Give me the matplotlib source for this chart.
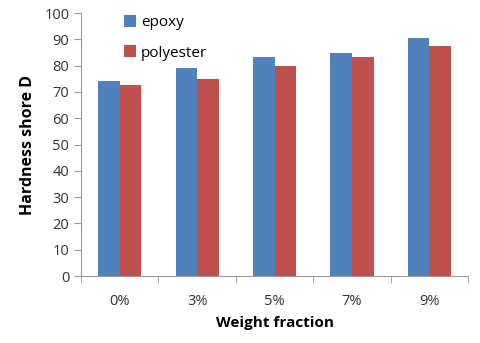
import numpy as np
import matplotlib.pyplot as plt

plt.rcParams['font.family'] = ['Open Sans', 'DejaVu Sans']

categories = ["0%", "3%", "5%", "7%", "9%"]
epoxy = [74.3, 79.0, 83.2, 84.9, 90.5]
polyester = [72.5, 74.8, 80.0, 83.2, 87.6]

fig = plt.figure(figsize=(4.8, 3.43), dpi=100)
ax = fig.add_axes([0.169, 0.195, 0.806, 0.767])

x = np.arange(len(categories))
w = 0.28
ax.bar(x - w / 2, epoxy, w, color="#4F81BD", label="epoxy")
ax.bar(x + w / 2, polyester, w, color="#C0504D", label="polyester")

ax.set_xlim(-0.5, len(categories) - 0.5)
ax.set_ylim(0, 100)
ax.set_yticks(range(0, 101, 10))
ax.set_xticks(x)
ax.set_xticklabels(categories)
ax.set_xticks(np.arange(-0.5, len(categories)), minor=True)
ax.tick_params(axis="x", which="major", length=0, pad=13, labelsize=10.5, colors="#333333")
ax.tick_params(axis="x", which="minor", length=5, color="#999999")
ax.tick_params(axis="y", length=5, color="#999999", labelsize=10.5, labelcolor="#333333")

for s in ["top", "right"]:
    ax.spines[s].set_visible(False)
for s in ["left", "bottom"]:
    ax.spines[s].set_color("#999999")

ax.set_xlabel("Weight fraction", fontweight="bold", fontsize=11, labelpad=5)
ax.set_ylabel("Hardness shore D", fontweight="bold", fontsize=11.5, labelpad=6)

ax.legend(loc="upper left", bbox_to_anchor=(0.075, 1.045), frameon=False,
          fontsize=11, handlelength=0.8, handleheight=0.8, handletextpad=0.3,
          labelspacing=1.0)

fig.savefig("out.png", dpi=100)
